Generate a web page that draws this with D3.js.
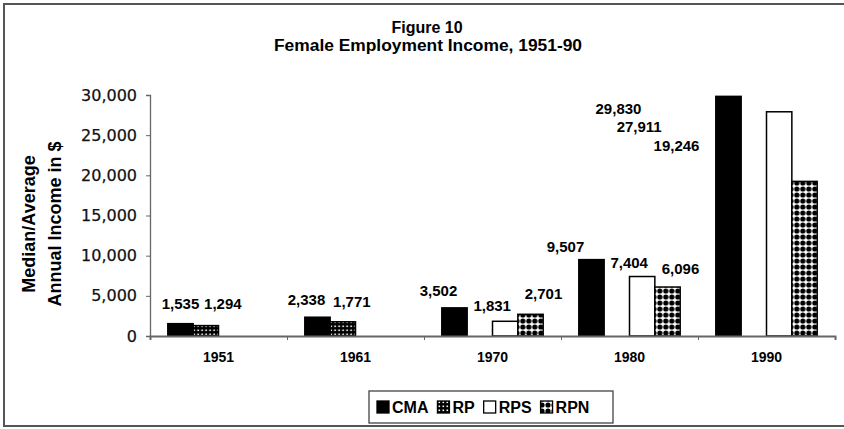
<!DOCTYPE html>
<html>
<head>
<meta charset="utf-8">
<script src="https://cdn.jsdelivr.net/npm/d3@7"></script>
<style>
  body { margin: 0; background: #fff; }
  svg { display: block; font-family: "Liberation Sans", Arial, sans-serif; }
</style>
</head>
<body>
<div id="chart"></div>
<script>
// ---- data ----
const years = ['1951', '1961', '1970', '1980', '1990'];
const seriesNames = ['CMA', 'RP', 'RPS', 'RPN'];
const cmaValues = [1535, 2338, 3502, 9507, 29830];
const rpValues  = [1294, 1771, null, null, null];
const rpsValues = [null, null, 1831, 7404, 27911];
const rpnValues = [null, null, 2701, 6096, 19246];
const yTicks = [0, 5000, 10000, 15000, 20000, 25000, 30000];

// the data labels were hand-placed in the original; nudge [dx, dy] from the bar top centre
const labelNudges = {
  '1951CMA': [0, -15],   '1951RP': [17, -17],
  '1961CMA': [-11, -12], '1961RP': [9, -15],
  '1970CMA': [-16, -12], '1970RPS': [-13, -10], '1970RPN': [13, -15],
  '1980CMA': [-26, -8],  '1980RPS': [-13, -9],  '1980RPN': [13, -13],
  '1990CMA': [-110, 18], '1990RPS': [-140, 20], '1990RPN': [-128, -30]
};

const valuesBySeries = { CMA: cmaValues, RP: rpValues, RPS: rpsValues, RPN: rpnValues };
const rows = [];
years.forEach((yr, i) => {
  seriesNames.forEach(s => {
    const v = valuesBySeries[s][i];
    if (v != null) rows.push({ year: yr, series: s, value: v });
  });
});

const width = 844, height = 429;
const margin = { left: 150, right: 9, top: 95, bottom: 93 };

const svg = d3.select('#chart').append('svg')
  .attr('width', width).attr('height', height);

// patterns
const defs = svg.append('defs');
const pRp = defs.append('pattern').attr('id', 'pat-rp')
  .attr('patternUnits', 'userSpaceOnUse').attr('width', 4).attr('height', 4);
pRp.append('rect').attr('width', 4).attr('height', 4).attr('fill', '#000');
pRp.append('rect').attr('x', 1.5).attr('y', 1.5).attr('width', 1.6).attr('height', 1.6).attr('fill', '#fff');

const pRpn = defs.append('pattern').attr('id', 'pat-rpn')
  .attr('patternUnits', 'userSpaceOnUse').attr('width', 6).attr('height', 6);
pRpn.append('rect').attr('width', 6).attr('height', 6).attr('fill', '#fff');
pRpn.append('circle').attr('cx', 3).attr('cy', 3).attr('r', 2.6).attr('fill', '#000');

const fills = { CMA: '#000', RP: 'url(#pat-rp)', RPS: '#fff', RPN: 'url(#pat-rpn)' };

// frame round the whole figure
svg.append('rect')
  .attr('x', 4).attr('y', 4).attr('width', 860).attr('height', 422)
  .attr('fill', 'none').attr('stroke', '#555').attr('stroke-width', 2);

// scales
const x0 = d3.scaleBand().domain(years)
  .range([margin.left, width - margin.right])
  .paddingInner(0.26).paddingOuter(0.13);
const x1 = d3.scaleBand().domain(seriesNames).range([0, x0.bandwidth()]);
const y = d3.scaleLinear().domain([0, 30000]).range([height - margin.bottom, margin.top]);

// title
svg.append('text').attr('x', 427).attr('y', 33)
  .attr('text-anchor', 'middle').attr('font-weight', 'bold').attr('font-size', 16)
  .text('Figure 10');
svg.append('text').attr('x', 428).attr('y', 51)
  .attr('text-anchor', 'middle').attr('font-weight', 'bold').attr('font-size', 16)
  .attr('textLength', 308).attr('lengthAdjust', 'spacingAndGlyphs')
  .text('Female Employment Income, 1951-90');

// y axis
const yAxis = svg.append('g')
  .attr('transform', `translate(${margin.left},0)`)
  .call(d3.axisLeft(y).tickValues(yTicks).tickSize(4).tickPadding(9)
    .tickFormat(d3.format(',')));
yAxis.select('.domain').attr('stroke', '#666').attr('stroke-width', 1.3);
yAxis.selectAll('.tick line').attr('stroke', '#666');
yAxis.selectAll('.tick text')
  .attr('font-family', '"DejaVu Sans", sans-serif')
  .attr('font-size', 16).attr('fill', '#111')
  .attr('stroke', '#111').attr('stroke-width', 0.25);

// y axis title
const yTitle = svg.append('text')
  .attr('transform', `translate(35,224) rotate(-90)`)
  .attr('text-anchor', 'middle').attr('font-weight', 'bold').attr('font-size', 18);
yTitle.append('tspan').attr('x', 0).attr('y', 0).text('Median/Average');
yTitle.append('tspan').attr('x', 0).attr('y', 26).text('Annual Income in $');

// bars
const groups = svg.append('g').selectAll('g')
  .data(years).join('g')
  .attr('transform', d => `translate(${x0(d)},0)`);

groups.selectAll('rect')
  .data(yr => rows.filter(r => r.year === yr))
  .join('rect')
  .attr('x', d => x1(d.series))
  .attr('y', d => y(d.value))
  .attr('width', x1.bandwidth())
  .attr('height', d => y(0) - y(d.value))
  .attr('fill', d => fills[d.series])
  .attr('stroke', '#000').attr('stroke-width', 1.5);

// data labels
svg.append('g').selectAll('text')
  .data(rows).join('text')
  .attr('x', d => x0(d.year) + x1(d.series) + x1.bandwidth() / 2 + labelNudges[d.year + d.series][0])
  .attr('y', d => y(d.value) + labelNudges[d.year + d.series][1])
  .attr('text-anchor', 'middle').attr('font-weight', 'bold').attr('font-size', 15)
  .text(d => d3.format(',')(d.value));

// x axis: boundary ticks plus category labels
const xEdge = d3.scaleLinear().domain([0, years.length])
  .range([margin.left, width - margin.right]);
const xAxis = svg.append('g')
  .attr('transform', `translate(0,${y(0)})`)
  .call(d3.axisBottom(xEdge).ticks(years.length).tickSize(4).tickFormat(''));
xAxis.select('.domain').attr('stroke', '#666').attr('stroke-width', 2);
xAxis.selectAll('.tick line').attr('stroke', '#666');

const xLabels = svg.append('g')
  .attr('transform', `translate(0,${y(0)})`)
  .call(d3.axisBottom(x0).tickSize(0).tickPadding(16));
xLabels.select('.domain').remove();
xLabels.selectAll('.tick text')
  .attr('font-family', '"Liberation Sans", Arial, sans-serif')
  .attr('font-weight', 'bold').attr('font-size', 14).attr('fill', '#000');

// legend
const legend = svg.append('g').attr('transform', 'translate(377,0)');
legend.append('rect')
  .attr('x', -8).attr('y', 391).attr('width', 244).attr('height', 32)
  .attr('fill', '#fff').attr('stroke', '#444').attr('stroke-width', 1.3);
let lx = 0;
seriesNames.forEach(s => {
  legend.append('rect')
    .attr('x', lx).attr('y', 401).attr('width', 12).attr('height', 12)
    .attr('fill', fills[s]).attr('stroke', '#000').attr('stroke-width', 1.3);
  const t = legend.append('text')
    .attr('x', lx + 15).attr('y', 413)
    .attr('font-weight', 'bold').attr('font-size', 16)
    .text(s);
  lx += 15 + t.node().getComputedTextLength() + 9;
});
</script>
</body>
</html>
